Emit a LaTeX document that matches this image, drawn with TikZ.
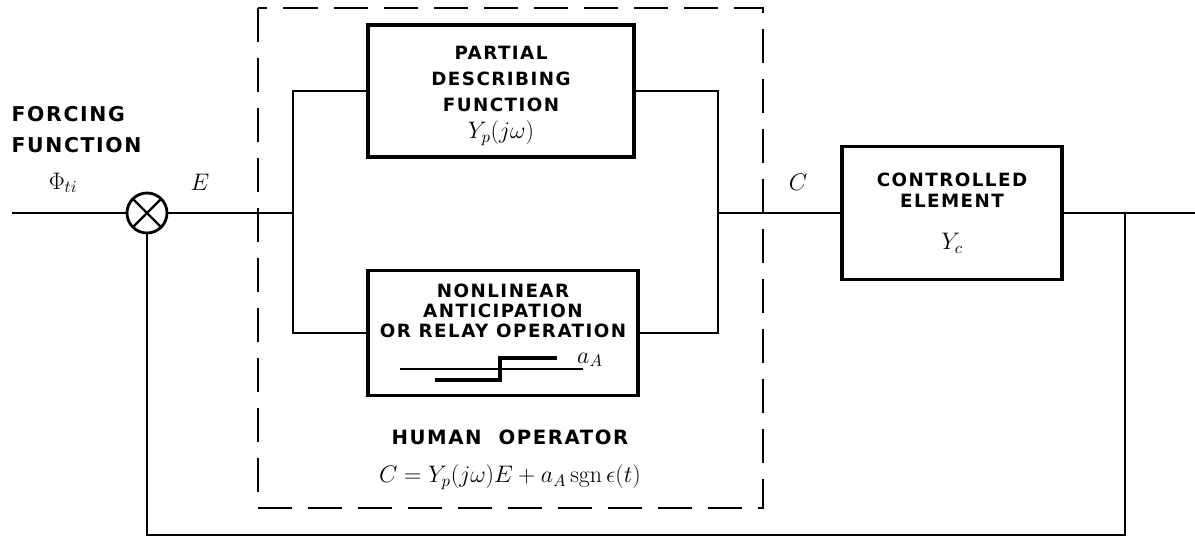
\RequirePackage{fix-cm}
\documentclass[tikz,border=0pt]{standalone}
\usepackage{fontspec}
\usepackage{amsmath}
\newfontfamily\lblfont[LetterSpace=8]{DejaVu Sans}
\usetikzlibrary{calc}

\begin{document}
\begin{tikzpicture}[x=0.025cm, y=-0.025cm, line width=1.4pt,
  block/.style = {draw, line width=2.8pt, align=center, font=\lblfont\bfseries\fontsize{13}{15}\selectfont},
  lbl/.style = {align=center, font=\lblfont\bfseries\fontsize{13}{14}\selectfont},
  sig/.style = {font=\fontsize{17}{20}\selectfont},
  sum/.style = {draw, circle, line width=2pt, minimum size=1cm, inner sep=0pt,
    path picture={\draw[line width=1.6pt] (path picture bounding box.north west) -- (path picture bounding box.south east)
      (path picture bounding box.north east) -- (path picture bounding box.south west);}}]
\useasboundingbox (0,0) rectangle (1195,537);

% human operator
\draw[line width=2pt, dash pattern=on 0.85cm off 0.4cm] (258,8) rectangle (763,508);

\node[sum] (sum) at (147,213) {};
\node[block, minimum width=6.65cm, minimum height=3.3cm] (pdf) at (501,91) {};
\node[lbl, font=\lblfont\bfseries\fontsize{13}{15}\selectfont] (pdftxt) at ($(pdf.center)+(0,5)$)
  {PARTIAL\\[3.5pt]DESCRIBING\\[3.5pt]FUNCTION\\[4pt]{\fontsize{17}{20}\selectfont$Y_p(j\omega)$}};
\node[block, minimum width=6.75cm, minimum height=3.125cm] (relay) at (503,333) {};
\node[lbl, anchor=north] (relaytxt) at ($(relay.north)+(0,10)$) {NONLINEAR\\ANTICIPATION\\OR RELAY OPERATION};
\node[block, minimum width=5.5cm, minimum height=3.325cm] (ce) at (952,213)
  {CONTROLLED\\ELEMENT\\[15pt]{\fontsize{17}{20}\selectfont$Y_c$}};

% relay characteristic
\draw[line width=0.9pt] (400,369) -- (583,369);
\draw[line width=2.4pt] (435,380) -- (500,380) -- (500,358) -- (557,358);
\node[sig, inner sep=1pt] (aA) at (590,360) {$a_A$};

\coordinate (in) at (12,213);
\coordinate (split) at (293,213);
\coordinate (join) at (718,213);
\coordinate (fb) at (1125,213);
\coordinate (out) at (1195,213);
\coordinate (fbl) at (147,535);

\draw (in) -- (sum.west);
\draw (sum.east) -- (split);
\draw (pdf.west) -| (split) |- (relay.west);
\draw (pdf.east) -| (join) |- (relay.east);
\draw (join) -- (ce.west);
\draw (ce.east) -- (out);
\draw (fb) |- (fbl) -- (sum.south);

% labels
\node[lbl, align=left, anchor=west, font=\lblfont\bfseries\fontsize{14.5}{22}\selectfont] (forcing) at (6,130) {FORCING\\FUNCTION};
\node[sig] (phi) at (63,183) {$\Phi_{ti}$};
\node[sig] (e) at (200,182) {$E$};
\node[sig] (c) at (798,182) {$C$};
\node[lbl, font=\lblfont\bfseries\fontsize{14}{16}\selectfont] (hum) at (510,437) {HUMAN\ \ OPERATOR};
\node[sig] (law) at (510,477) {$C = Y_p(j\omega)E + a_A\,\mathrm{sgn}\,\epsilon(t)$};
\end{tikzpicture}
\end{document}
